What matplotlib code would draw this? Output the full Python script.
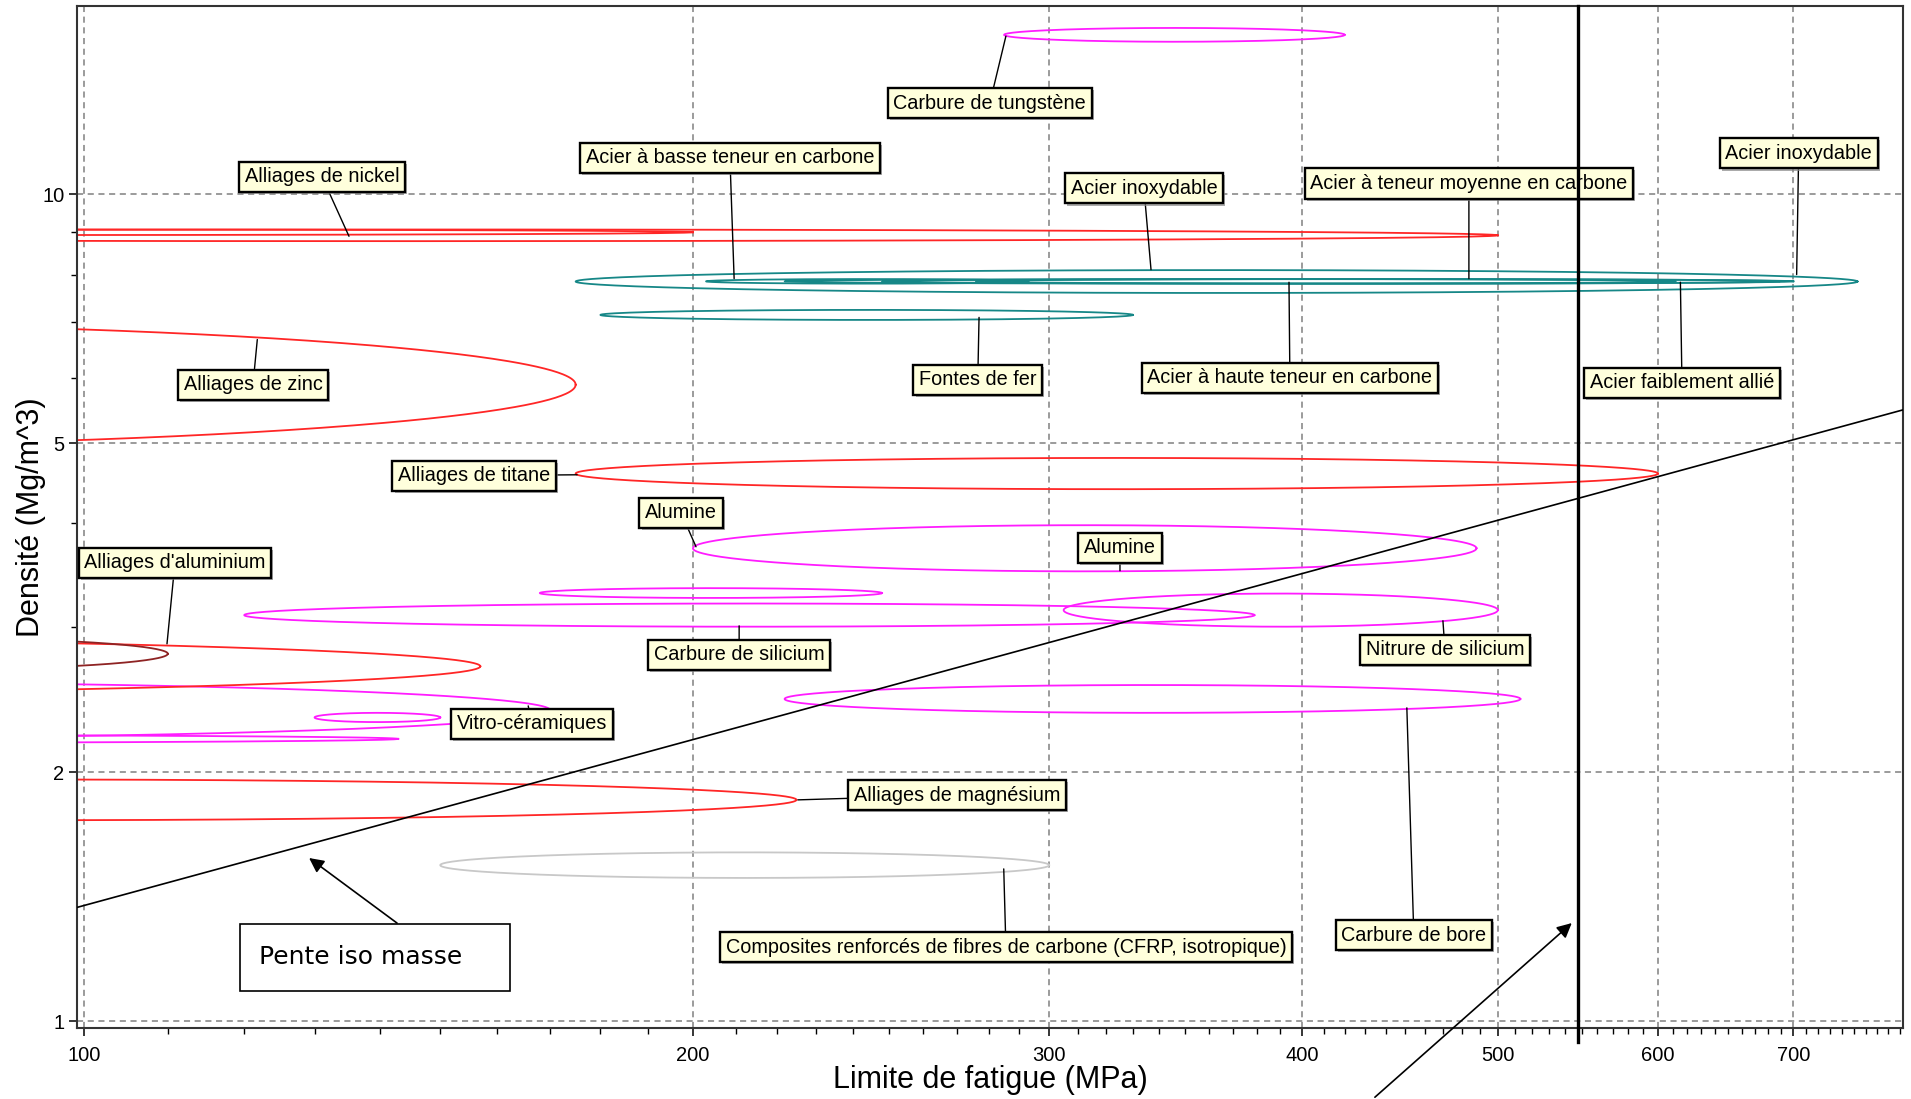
import numpy as np
import matplotlib
matplotlib.use('Agg')
import matplotlib.pyplot as plt
import matplotlib.patheffects as pe
from matplotlib.patches import Rectangle
from matplotlib.ticker import NullFormatter

# Diagramme d'Ashby : limite de fatigue (MPa) / densité (Mg/m^3)
# chaque matériau = une bulle (ellipse en log-log) entre min et max
materiaux = ["Carbure de tungstène", "Alliages de nickel", "Alliages de cuivre",
             "Acier inoxydable", "Acier à basse teneur en carbone",
             "Acier à teneur moyenne en carbone", "Acier à haute teneur en carbone",
             "Acier faiblement allié", "Fontes de fer", "Alliages de zinc",
             "Alliages de titane", "Alumine", "Céramique (autre)", "Carbure de silicium",
             "Nitrure de silicium", "Carbure de bore", "Alliages d'aluminium",
             "Alliages d'aluminium (moulés)", "Vitro-céramiques", "Verre (1)", "Verre (2)",
             "Alliages de magnésium", "CFRP"]
fatigue_min = [285, 40, 40, 175, 203, 222, 276, 248, 180, 22, 175, 200, 168, 120,
               305, 222, 15.7, 60, 30, 130, 30, 39, 150]
fatigue_max = [420, 500, 200, 753, 293, 612, 689, 700, 330, 175, 600, 488, 248, 379,
               500, 513, 157, 110, 170, 150, 143, 225, 300]
densite_min = [15.3, 8.78, 8.93, 7.6, 7.8, 7.8, 7.8, 7.8, 7.05, 4.95, 4.4, 3.5, 3.25, 3.0,
               3.0, 2.36, 2.48, 2.66, 2.2, 2.30, 2.17, 1.75, 1.49]
densite_max = [15.9, 9.07, 9.07, 8.1, 7.9, 7.9, 7.9, 7.9, 7.25, 7.0, 4.8, 3.98, 3.34, 3.2,
               3.29, 2.55, 2.91, 2.91, 2.57, 2.36, 2.22, 1.96, 1.6]
famille = ["ceramique", "metal", "metal", "acier", "acier", "acier", "acier", "acier",
           "acier", "metal", "metal", "ceramique", "ceramique", "ceramique", "ceramique",
           "ceramique", "metal", "metal_fonce", "ceramique", "ceramique", "ceramique",
           "metal", "composite"]

# droite iso masse : densité = a * sigma^(2/3)
iso_pente = 2.0 / 3.0
iso_ref_sigma = 100
iso_ref_densite = 1.38

# limite verticale (MPa)
limite_verticale = 548

# étiquettes : texte, point sur la bulle, position de la boîte
etiquettes = ["Carbure de tungstène", "Acier à basse teneur en carbone", "Alliages de nickel",
              "Acier inoxydable", "Acier à teneur moyenne en carbone", "Acier inoxydable",
              "Alliages de zinc", "Fontes de fer", "Acier à haute teneur en carbone",
              "Acier faiblement allié", "Alliages de titane", "Alumine", "Alumine",
              "Alliages d'aluminium", "Carbure de silicium", "Nitrure de silicium",
              "Vitro-céramiques", "Alliages de magnésium",
              "Composites renforcés de fibres de carbone (CFRP, isotropique)",
              "Carbure de bore"]
etiq_point = [(285.6, 15.54), (209.6, 7.91), (135.2, 8.90), (336.9, 8.11), (483.8, 7.91),
              (702.6, 8.0), (121.8, 6.675), (277, 7.10), (394.2, 7.83), (615.5, 7.83),
              (175.3, 4.58), (200.7, 3.748), (325.2, 3.506), (109.9, 2.86), (210.8, 3.007),
              (469.7, 3.05), (165.8, 2.406), (225.4, 1.852), (284.9, 1.528), (450.8, 2.393)]
etiq_boite = [(280.4, 12.89), (208.6, 11.08), (131.1, 10.51), (334.2, 10.17), (483.8, 10.31),
              (704.2, 11.21), (121.2, 5.888), (276.6, 5.97), (394.6, 6.00), (616.6, 5.92),
              (155.9, 4.57), (197.3, 4.121), (325.2, 3.738), (110.9, 3.585), (210.8, 2.774),
              (470.8, 2.813), (166.5, 2.288), (270.1, 1.877), (285.6, 1.229), (454.4, 1.271)]

x_ticks = [100, 200, 300, 400, 500, 600, 700]
y_ticks = [1, 2, 5, 10]

couleurs = {"metal": "#ff2626", "metal_fonce": "#8e2323", "acier": "#168787",
            "ceramique": "#ff1cff", "composite": "#c8c8c8"}
police = ["Liberation Sans", "DejaVu Sans"]


def bulle(x0, x1, y0, y1, n=600):
    # ellipse alignée sur les axes en coordonnées log
    t = np.linspace(0, 2 * np.pi, n)
    lx0, lx1 = np.log10(x0), np.log10(x1)
    ly0, ly1 = np.log10(y0), np.log10(y1)
    cx, rx = (lx0 + lx1) / 2, (lx1 - lx0) / 2
    cy, ry = (ly0 + ly1) / 2, (ly1 - ly0) / 2
    return 10 ** (cx + rx * np.cos(t)), 10 ** (cy + ry * np.sin(t))


fig = plt.figure(figsize=(19.11, 10.99), dpi=100)
ax = fig.add_axes([0.0403, 0.0646, 0.9555, 0.9299])
ax.set_xscale('log')
ax.set_yscale('log')
ax.set_xlim(99.2, 793)
ax.set_ylim(0.981, 16.9)

# bulles (magenta d'abord, les métaux par dessus)
ordre = ["ceramique", "composite", "metal", "metal_fonce", "acier"]
for fam in ordre:
    for i in range(len(materiaux)):
        if famille[i] != fam:
            continue
        bx, by = bulle(fatigue_min[i], fatigue_max[i], densite_min[i], densite_max[i])
        ax.plot(bx, by, color=couleurs[fam], lw=1.3, zorder=2)

# droite iso masse
xs = np.array(ax.get_xlim())
ax.plot(xs, iso_ref_densite * (xs / iso_ref_sigma) ** iso_pente, color='black', lw=1.2, zorder=3)

# étiquettes
ombre = [pe.SimplePatchShadow(offset=(1.5, -1.5), shadow_rgbFace='#888888', alpha=0.7),
         pe.Normal()]
for txt, pt, bx in zip(etiquettes, etiq_point, etiq_boite):
    ann = ax.annotate(txt, xy=pt, xytext=bx, ha='center', va='center', fontsize=14.3,
                      family=police,
                      bbox=dict(boxstyle='square,pad=0.28', fc='#ffffdc', ec='black', lw=1.7),
                      arrowprops=dict(arrowstyle='-', color='black', lw=1.0, shrinkA=0,
                                      shrinkB=0),
                      zorder=5)
    ann.get_bbox_patch().set_path_effects(ombre)

# limite verticale
ax.axvline(limite_verticale, ymin=-0.014, ymax=1.0, color='black', lw=2.4, zorder=6,
           clip_on=False)

# encadré "Pente iso masse" et flèches
ax.add_patch(Rectangle((119.4, 1.087), 162.4 - 119.4, 1.31 - 1.087, fc='white', ec='black',
                       lw=1.2, zorder=5))
ax.text(122.0, 1.195, "Pente iso masse", fontsize=18, family=["DejaVu Sans"], ha='left',
        va='center', zorder=6)
ax.annotate("", xy=(129.2, 1.575), xytext=(142.8, 1.314),
            arrowprops=dict(arrowstyle='-|>', color='black', lw=1.2, mutation_scale=22,
                            shrinkA=0, shrinkB=0), zorder=6)
ax.annotate("", xy=(543.9, 1.314), xytext=(434.7, 0.809), annotation_clip=False,
            arrowprops=dict(arrowstyle='-|>', color='black', lw=1.2, mutation_scale=22,
                            shrinkA=0, shrinkB=0), zorder=6)

# axes, graduations, grille
ax.set_xticks(x_ticks)
ax.set_xticklabels([str(v) for v in x_ticks])
ax.set_xticks([v for v in range(110, 800, 10) if v not in x_ticks], minor=True)
ax.set_yticks(y_ticks)
ax.set_yticklabels([str(v) for v in y_ticks])
ax.set_yticks([3, 4, 6, 7, 8, 9], minor=True)
ax.xaxis.set_minor_formatter(NullFormatter())
ax.yaxis.set_minor_formatter(NullFormatter())
ax.tick_params(which='major', length=6, width=1.1, labelsize=14.5)
ax.tick_params(axis='x', which='major', pad=7)
ax.tick_params(axis='y', which='major', pad=3)
ax.tick_params(which='minor', length=4, width=1.0)
for lab in ax.get_xticklabels() + ax.get_yticklabels():
    lab.set_family(police)
ax.grid(True, which='major', ls=(0, (4, 3)), color='#808080', lw=1.1, zorder=0)
ax.set_axisbelow(True)
for sp in ax.spines.values():
    sp.set_linewidth(1.5)
    sp.set_color('#333333')

ax.set_xlabel("Limite de fatigue (MPa)", fontsize=22, family=police, labelpad=0)
ax.set_ylabel("Densité (Mg/m^3)", fontsize=22, family=police, labelpad=-3)

fig.savefig('out.png', dpi=100)
